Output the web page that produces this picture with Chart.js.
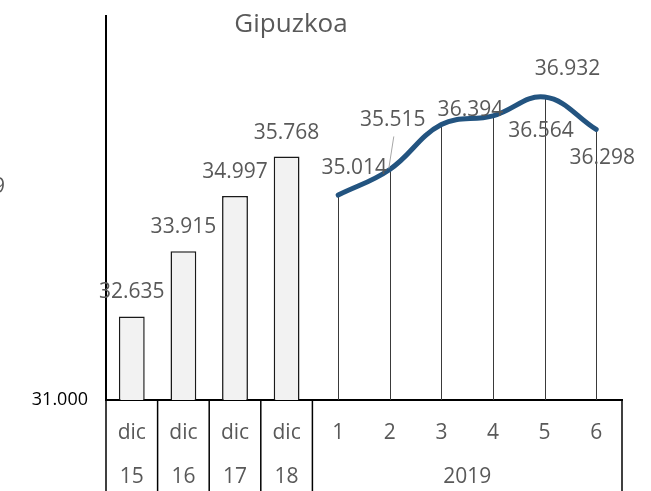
<!DOCTYPE html>
<html>
<head>
<meta charset="utf-8">
<script src="https://cdn.jsdelivr.net/npm/chart.js@4/dist/chart.umd.min.js"></script>
<style>
  html, body { margin: 0; padding: 0; background: #fff; }
  #wrap { width: 651px; height: 491px; position: relative; }
</style>
</head>
<body>
<div id="wrap"><canvas id="chartGipuzkoa"></canvas></div>
<script>
// categories: top row and group row of the axis
const categories = ["dic", "dic", "dic", "dic", "1", "2", "3", "4", "5", "6"];
const groupLabels = ["15", "16", "17", "18", "2019"];
const groupSizes = [1, 1, 1, 1, 6];

// December values (bars) and 2019 monthly values (line)
const barValues = [32.635, 33.915, 34.997, 35.768, null, null, null, null, null, null];
const lineValues = [null, null, null, null, 35.014, 35.515, 36.394, 36.564, 36.932, 36.298];

// y axis
const yMin = 31;
const yMax = 38.52;
const yTicks = [31];

// where each data label sits relative to its mark (px)
const labelOffsets = [[0, -24], [0, -24], [0, -24], [0, -24],
                      [16, -27], [3, -49], [29, -15], [48, 15], [23, -28], [6, 29]];

const chartGipuzkoa = document.getElementById("chartGipuzkoa");
const labelFont = "21px 'Open Sans', sans-serif";
const fmt = (v) => v.toFixed(3);

// title, stray label, drop lines, data labels and the two-row category table
const extrasPlugin = {
    id: "extras",
    beforeDatasetsDraw(chart) {
        const ctx = chart.ctx;
        const area = chart.chartArea;
        const lineMeta = chart.getDatasetMeta(1);
        ctx.save();
        ctx.strokeStyle = "#3a3a3a";
        ctx.lineWidth = 1;
        lineMeta.data.forEach((pt, i) => {
            if (lineValues[i] === null) return;
            const x = Math.round(pt.x) + 0.5;
            ctx.beginPath();
            ctx.moveTo(x, pt.y);
            ctx.lineTo(x, area.bottom);
            ctx.stroke();
        });
        ctx.restore();
    },
    afterDraw(chart) {
        const ctx = chart.ctx;
        const area = chart.chartArea;
        const xs = chart.scales.x;
        const H = chart.height;
        ctx.save();

        // title
        ctx.fillStyle = "#595959";
        ctx.font = "26px 'Open Sans', sans-serif";
        ctx.textAlign = "center";
        ctx.textBaseline = "middle";
        ctx.fillText("Gipuzkoa", 291, 25);

        // clipped label at the left edge
        ctx.textAlign = "right";
        ctx.font = labelFont;
        ctx.fillText("9", 5, 187);

        // data labels
        ctx.textAlign = "center";
        ctx.fillStyle = "#595959";
        const barMeta = chart.getDatasetMeta(0);
        const lineMeta = chart.getDatasetMeta(1);
        categories.forEach((c, i) => {
            let v, el;
            if (barValues[i] !== null) { v = barValues[i]; el = barMeta.data[i]; }
            else { v = lineValues[i]; el = lineMeta.data[i]; }
            const lx = el.x + labelOffsets[i][0];
            const ly = el.y + labelOffsets[i][1];
            if (i === 5) {
                // leader line for the label that sits away from its point
                ctx.strokeStyle = "#a6a6a6";
                ctx.lineWidth = 1;
                ctx.beginPath();
                ctx.moveTo(el.x - 1, el.y - 1);
                ctx.lineTo(lx + 1, ly + 16);
                ctx.stroke();
            }
            ctx.fillText(fmt(v), lx, ly);
        });

        // category table under the axis
        const step = xs.getPixelForValue(1) - xs.getPixelForValue(0);
        const left = area.left;
        ctx.strokeStyle = "#000";
        ctx.lineWidth = 1.5;
        let k = 0;
        const bounds = [left];
        groupSizes.forEach((n) => { k += n; bounds.push(left + step * k); });
        bounds.forEach((bx) => {
            ctx.beginPath();
            ctx.moveTo(bx, area.bottom);
            ctx.lineTo(bx, H);
            ctx.stroke();
        });
        ctx.fillStyle = "#595959";
        ctx.font = labelFont;
        categories.forEach((c, i) => {
            ctx.fillText(c, xs.getPixelForValue(i), area.bottom + 33);
        });
        groupLabels.forEach((g, j) => {
            ctx.fillText(g, (bounds[j] + bounds[j + 1]) / 2, area.bottom + 77);
        });
        ctx.restore();
    }
};

new Chart(chartGipuzkoa, {
    data: {
        labels: categories,
        datasets: [
            {
                type: "bar",
                data: barValues,
                backgroundColor: "#f2f2f2",
                borderColor: "#1a1a1a",
                borderWidth: 1.5,
                categoryPercentage: 1,
                barPercentage: 0.5,
                order: 2,
            },
            {
                type: "line",
                data: lineValues,
                borderColor: "#235480",
                borderWidth: 5,
                tension: 0.4,
                pointRadius: 0,
                fill: false,
                borderCapStyle: "round",
                order: 1,
            },
        ],
    },
    options: {
        responsive: true,
        maintainAspectRatio: false,
        animation: false,
        layout: { padding: { top: 16, right: 29, left: 0, bottom: 0 } },
        plugins: {
            legend: { display: false },
            tooltip: { enabled: false },
        },
        scales: {
            x: {
                grid: { display: false, drawTicks: false },
                border: { display: true, color: "#000", width: 2 },
                ticks: { display: false },
                afterFit: (scale) => {
                    scale.height = 91;
                    scale.paddingLeft = 0;
                    scale.paddingRight = 0;
                },
            },
            y: {
                min: yMin,
                max: yMax,
                grid: { display: false, drawTicks: false },
                border: { display: true, color: "#000", width: 2 },
                afterBuildTicks: (scale) => { scale.ticks = yTicks.map((v) => ({ value: v })); },
                ticks: {
                    color: "#000",
                    font: { family: "'Open Sans', sans-serif", size: 18 },
                    padding: 18,
                    callback: (v) => v.toFixed(3),
                },
                afterFit: (scale) => {
                    scale.width = 106;
                    scale.paddingTop = 0;
                    scale.paddingBottom = 0;
                },
            },
        },
    },
    plugins: [extrasPlugin],
});
</script>
</body>
</html>
